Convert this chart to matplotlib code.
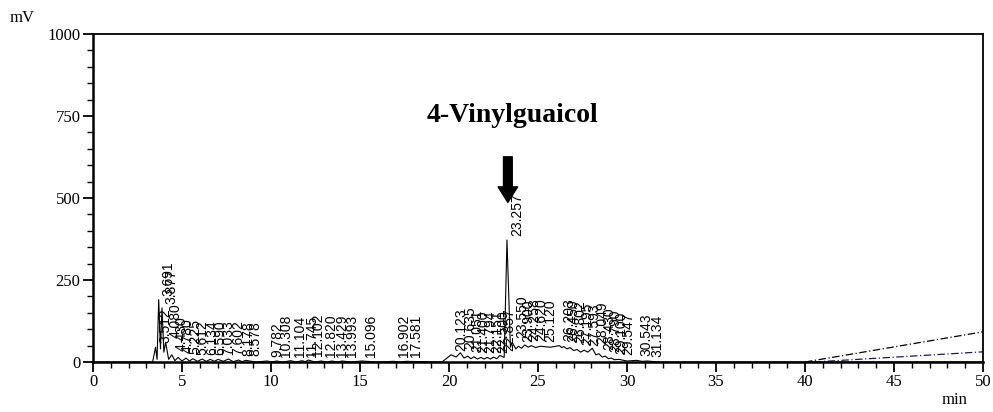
import numpy as np
import matplotlib
matplotlib.use("Agg")
import matplotlib.pyplot as plt
from matplotlib.ticker import MultipleLocator

# Detected peaks: retention time (min) and apex signal (mV)
peak_rt = [3.512, 3.691, 3.877, 4.080, 4.430, 4.780, 5.225, 5.612, 6.134, 6.590,
           7.033, 7.602, 8.178, 8.578, 9.782, 10.308, 11.104, 11.745, 12.102, 12.820,
           13.429, 13.993, 15.096, 16.902, 17.581, 20.123, 20.635, 21.051, 21.400, 21.794,
           22.151, 22.500, 22.857, 23.257, 23.550, 23.900, 24.258, 24.620, 25.120, 26.203,
           26.450, 26.802, 27.195, 27.593, 28.049, 28.430, 28.790, 29.100, 29.547, 30.543,
           31.134]
peak_mv = [45, 190, 165, 60, 22, 14, 12, 10, 9, 8,
           8, 9, 6, 5, 3, 3, 4, 4, 6, 3,
           3, 3, 3, 2, 2, 22, 28, 18, 16, 14,
           14, 15, 20, 372, 60, 48, 52, 50, 48, 50,
           47, 44, 38, 36, 42, 25, 18, 12, 8, 5,
           3]

# Valleys / baseline points between the peaks
valley_t = [0, 3.35, 3.60, 3.79, 3.98, 4.25, 4.60, 5.00, 5.42, 5.87, 6.36, 6.81, 7.32,
            7.89, 8.38, 9.18, 10.05, 10.70, 11.42, 11.92, 12.46, 13.12, 13.71, 14.50,
            16.00, 17.24, 19.60, 20.40, 20.85, 21.23, 21.60, 21.97, 22.33, 22.68, 23.10,
            23.45, 23.75, 24.08, 24.45, 24.87, 25.70, 26.33, 26.63, 27.00, 27.40, 27.80,
            28.25, 28.60, 28.95, 29.30, 30.00, 30.85, 31.80, 50]
valley_mv = [0, 0, 8, 40, 30, 8, 4, 3, 3, 2, 2, 2, 2,
             1, 1, 0, 0, 0, 0, 1, 0, 0, 0, 0,
             0, 0, 0, 15, 12, 10, 9, 9, 9, 10, 14,
             45, 40, 42, 45, 44, 45, 44, 40, 35, 30, 30,
             22, 15, 10, 7, 3, 2, 0, 0]

# Gradient program traces (dash-dot)
grad1_t = [40, 50]
grad1_mv = [0, 92]
grad2_t = [40.5, 50]
grad2_mv = [0, 31]

yticks = [0, 250, 500, 750, 1000]
xticks = [0, 5, 10, 15, 20, 25, 30, 35, 40, 45, 50]

compound = "4-Vinylguaicol"
compound_rt = 23.257

# Merge apexes and valleys into one trace
trace = sorted(list(zip(peak_rt, peak_mv)) + list(zip(valley_t, valley_mv)))
trace_t = [p[0] for p in trace]
trace_mv = [p[1] for p in trace]

serif = "Liberation Serif"

fig = plt.figure(figsize=(9.93, 4.12), dpi=100)
ax = fig.add_axes([93 / 993, 1 - 362 / 412, 890 / 993, 328 / 412])

ax.plot(trace_t, trace_mv, color="black", lw=0.8)
ax.plot(grad1_t, grad1_mv, color="black", lw=0.9, ls=(0, (6, 2, 1, 2)))
ax.plot(grad2_t, grad2_mv, color="#1a1a5a", lw=0.9, ls=(0, (6, 2, 1, 2)))

for rt, mv in zip(peak_rt, peak_mv):
    ax.annotate(f"{rt:.3f}", xy=(rt, mv), xytext=(2, 3), textcoords="offset points",
                rotation=90, ha="left", va="bottom", fontsize=10,
                family="Liberation Sans", color="black")

# Compound annotation with arrow
ax.annotate("", xy=(compound_rt + 0.05, 478), xytext=(compound_rt + 0.05, 634),
            arrowprops=dict(arrowstyle="simple,head_length=0.8,head_width=1.0,tail_width=0.45",
                            fc="black", ec="black", mutation_scale=14))
ax.text(compound_rt + 0.3, 752, compound, ha="center", va="center",
        fontsize=20, fontweight="bold", family=serif)

ax.set_xlim(0, 50)
ax.set_ylim(0, 1000)
ax.set_xticks(xticks)
ax.set_yticks(yticks)
ax.xaxis.set_minor_locator(MultipleLocator(1))
ax.yaxis.set_minor_locator(MultipleLocator(50))
ax.tick_params(which="major", direction="out", length=7, width=1.3,
               labelsize=12, pad=2)
ax.tick_params(which="minor", direction="out", length=4, width=1.0)
for lab in ax.get_xticklabels() + ax.get_yticklabels():
    lab.set_family(serif)
for side in ["left", "bottom"]:
    ax.spines[side].set_linewidth(1.8)
for side in ["top", "right"]:
    ax.spines[side].set_linewidth(1.3)

fig.text(10 / 993, 1 - 18 / 412, "mV", fontsize=12, family=serif, va="center", ha="left")
fig.text(955 / 993, 1 - 400 / 412, "min", fontsize=12, family=serif, va="center", ha="center")

fig.savefig("out.png", dpi=100, facecolor="white")
